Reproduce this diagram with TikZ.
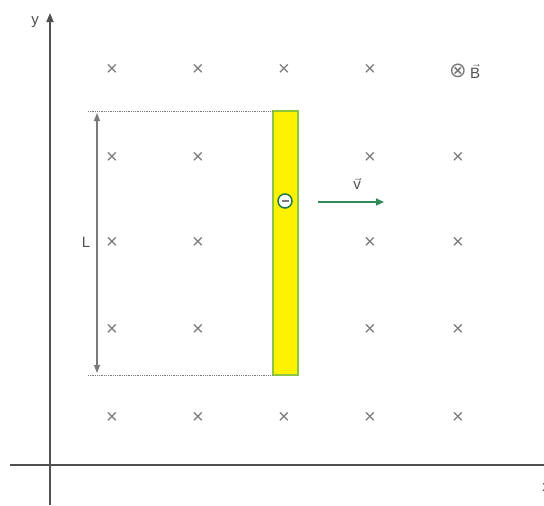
\documentclass[tikz,border=0pt]{standalone}
\usepackage{amsmath}
\usepackage{fontspec}
\setmainfont{Liberation Sans}
\newfontfamily\symfont{DejaVu Sans}
\usetikzlibrary{arrows.meta}
\definecolor{axisgray}{HTML}{505050}
\definecolor{crossgray}{HTML}{7A7A7A}
\definecolor{rodyellow}{HTML}{FFF200}
\definecolor{rodgreen}{HTML}{8CC63F}
\definecolor{vgreen}{HTML}{2E8B57}
\definecolor{egreen}{HTML}{1E7A4A}

\begin{document}
\begin{tikzpicture}[x=1pt,y=-1pt,every node/.style={font=\fontsize{15}{17}\selectfont,text=axisgray},
  cross/.style={font=\fontsize{20}{20}\selectfont,text=crossgray,inner sep=0pt},
  axis/.style={draw=axisgray,line width=1.8pt,-{Triangle[width=7pt,length=9pt]}}]
\useasboundingbox (0,0) rectangle (544,506);
% axes
\coordinate (ybot) at (50,505);
\coordinate (ytop) at (50,13);
\coordinate (xleft) at (10,465);
\coordinate (xright) at (553,465);
\draw[axis] (ybot) -- (ytop);
\draw[axis] (xleft) -- (xright);
\node (ylab) at (35,22) {y};
\node (xlab) at (546,488) {x};
% field crosses
\foreach \x/\c in {112/1,198/2,284/3,370/4}
  \node[cross] (c1\c) at (\x,70) {×};
\foreach \y/\r in {158/2,243/3,330/4,418/5}
  \foreach \x/\c in {112/1,198/2,284/3,370/4,458/5}
    \node[cross] (c\r\c) at (\x,\y) {×};
% field label
\node[inner sep=0pt,text=crossgray] (Bsym) at (458,71) {\symfont\fontsize{21}{21}\selectfont ⊗};
\node[inner sep=0pt,anchor=west] (Blab) at ([xshift=3pt]Bsym.east) {$\vec{\mbox{B}}$};
% rod
\draw[rodgreen,line width=2.5pt,fill=rodyellow] (273,111) rectangle (298,375);
\coordinate (rodtop) at (273,111);
\coordinate (rodbot) at (273,375);
\coordinate (ltop) at (88,111);
\coordinate (lbot) at (88,375);
\draw[crossgray,densely dotted,line width=0.8pt] (ltop) -- (rodtop);
\draw[crossgray,densely dotted,line width=0.8pt] (lbot) -- (rodbot);
% length L
\coordinate (la) at (97,113);
\coordinate (lb) at (97,373);
\draw[crossgray,line width=1.4pt,{Triangle[width=6pt,length=8pt]}-{Triangle[width=6pt,length=8pt]}] (la) -- (lb);
\node (L) at (86,242) {L};
% electron and velocity
\node[circle,draw=egreen,line width=1.5pt,fill=white,minimum size=14pt,inner sep=0pt] (e) at (285,201) {};
\draw[crossgray,line width=1.5pt] ([xshift=-3.5pt]e.center) -- ([xshift=3.5pt]e.center);
\coordinate (va) at (318,202);
\coordinate (vb) at (384,202);
\draw[vgreen,line width=1.6pt,-{Triangle[width=7pt,length=8pt]}] (va) -- (vb);
\node (vlab) at (357,184) {$\vec{\mbox{v}}$};
\end{tikzpicture}
\end{document}
